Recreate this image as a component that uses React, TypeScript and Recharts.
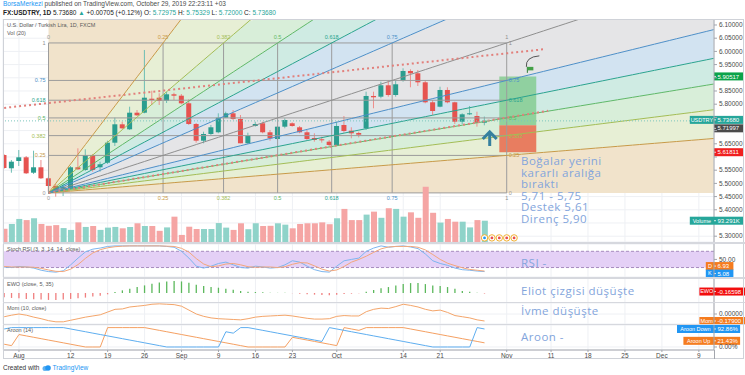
import React from 'react';
import {
  ComposedChart, Bar, Line, Area, XAxis, YAxis, CartesianGrid,
  ReferenceLine, ReferenceArea, ReferenceDot, Cell,
} from 'recharts';

// daily bars, index 0 = 30 Jul 2019 ... 65 = 29 Oct 2019 (weekdays only)
const opens = [
  5.6075, 5.5572, 5.5848, 5.5988, 5.5405, 5.561, 5.5193, 5.4901, 5.4776, 5.4814,
  5.561, 5.5507, 5.6075, 5.561, 5.5784, 5.6542, 5.7238, 5.7049, 5.7678, 5.7678,
  5.8208, 5.8246, 5.8132, 5.8375, 5.8322, 5.8034, 5.725, 5.6617, 5.6871, 5.6936,
  5.7489, 5.7655, 5.7439, 5.6519, 5.7174, 5.7277, 5.6936, 5.6682, 5.7148, 5.7277,
  5.7125, 5.6936, 5.672, 5.667, 5.658, 5.6455, 5.7212, 5.6996, 5.6909, 5.7087,
  5.8311, 5.8284, 5.8716, 5.8348, 5.889, 5.9258, 5.917, 5.8829, 5.8072, 5.7905,
  5.8538, 5.8072, 5.7337, 5.7617, 5.7553, 5.72975,
];
const highs = [
  5.6113, 5.5886, 5.6265, 5.6038, 5.6238, 5.5886, 5.5242, 5.4977, 5.5015, 5.5659,
  5.6329, 5.6291, 5.6113, 5.5822, 5.6618, 5.7489, 5.7337, 5.7905, 5.778, 6.0053,
  5.8511, 5.8413, 5.8462, 5.8436, 5.8386, 5.8185, 5.7288, 5.6958, 5.7212, 5.7655,
  5.7716, 5.778, 5.7591, 5.692, 5.7337, 5.7337, 5.7023, 5.7174, 5.7466, 5.7314,
  5.7174, 5.7023, 5.6898, 5.6769, 5.6644, 5.7337, 5.7553, 5.7125, 5.6958, 5.8474,
  5.8474, 5.8852, 5.8916, 5.8916, 5.936, 5.9322, 5.9296, 5.8916, 5.8159, 5.8663,
  5.864, 5.8094, 5.7655, 5.7932, 5.7716, 5.75329,
];
const lows = [
  5.5545, 5.5405, 5.5659, 5.5356, 5.5356, 5.5166, 5.4685, 5.4496, 5.4523, 5.475,
  5.5507, 5.5469, 5.5443, 5.5443, 5.5735, 5.6417, 5.7049, 5.7023, 5.7553, 5.7655,
  5.797, 5.797, 5.8045, 5.8159, 5.7997, 5.7212, 5.6542, 5.6519, 5.6833, 5.6898,
  5.7477, 5.7401, 5.6519, 5.6492, 5.7148, 5.6898, 5.6617, 5.6644, 5.7087, 5.7148,
  5.6898, 5.6644, 5.658, 5.6542, 5.639, 5.6417, 5.6921, 5.6708, 5.6742, 5.7023,
  5.7845, 5.8223, 5.8284, 5.8284, 5.8852, 5.864, 5.8689, 5.8034, 5.7591, 5.7882,
  5.8034, 5.725, 5.7246, 5.7591, 5.7148, 5.72,
];
const closes = [
  5.5583, 5.5822, 5.5988, 5.5382, 5.561, 5.5193, 5.4901, 5.475, 5.4875, 5.561,
  5.5534, 5.6075, 5.5507, 5.5723, 5.6542, 5.7238, 5.7087, 5.7678, 5.7579, 5.8246,
  5.8159, 5.8121, 5.8375, 5.8322, 5.8034, 5.725, 5.6617, 5.6871, 5.7125, 5.7489,
  5.7655, 5.7439, 5.6519, 5.6807, 5.725, 5.6936, 5.6708, 5.7148, 5.7401, 5.7174,
  5.6936, 5.6682, 5.6644, 5.6632, 5.6455, 5.7174, 5.6985, 5.6897, 5.6845, 5.8311,
  5.8261, 5.8716, 5.8348, 5.8754, 5.9258, 5.917, 5.8829, 5.8072, 5.7742, 5.8538,
  5.8072, 5.7337, 5.7617, 5.7655, 5.7299, 5.7368,
];
// volume in thousands
const volumes = [
  58, 79, 101, 96, 104, 79, 71, 74, 61, 53,
  86, 66, 70, 53, 63, 66, 60, 66, 82, 70,
  70, 49, 64, 111, 31, 67, 57, 57, 57, 83,
  63, 53, 82, 56, 82, 70, 71, 82, 76, 60,
  79, 82, 82, 86, 78, 104, 145, 96, 96, 120,
  133, 106, 148, 145, 111, 130, 106, 242, 128, 85,
  101, 89, 89, 64, 96, 93.291,
];
const stochK = [
  22, 20, 24, 22, 18, 10, 5, 3, 8, 30,
  55, 78, 88, 92, 98, 100, 100, 100, 100, 100,
  100, 100, 98, 95, 80, 55, 25, 18, 25, 35,
  40, 30, 20, 18, 25, 22, 18, 20, 30, 45,
  40, 25, 12, 5, 3, 25, 45, 50, 55, 80,
  92, 100, 95, 98, 100, 96, 90, 70, 45, 35,
  28, 18, 12, 10, 7, 5.08,
];
const stochD = [
  24, 22, 22, 22, 21, 17, 11, 6, 5, 14,
  31, 54, 74, 86, 93, 97, 99, 100, 100, 100,
  100, 100, 99, 98, 91, 77, 53, 33, 23, 26,
  33, 35, 30, 23, 21, 22, 22, 20, 23, 32,
  38, 37, 26, 14, 7, 11, 24, 40, 50, 62,
  76, 89, 96, 98, 98, 98, 95, 85, 68, 50,
  36, 27, 19, 13, 10, 6.93,
];
const ewoValues = [
  -1.3, -1.5, -1.6, -1.8, -1.9, -2.0, -2.1, -2.1, -2.0, -1.8,
  -1.6, -1.4, -1.1, -0.8, -0.4, 0.3, 0.8, 1.3, 1.8, 2.3,
  2.8, 3.2, 3.5, 3.6, 3.5, 3.1, 2.5, 2.1, 1.8, 1.6,
  1.3, 1.0, 0.6, 0.4, 0.3, 0.2, 0.1, 0.05, 0.05, -0.05,
  -0.2, -0.35, -0.5, -0.6, -0.7, -0.5, -0.3, -0.2, -0.1, 0.4,
  0.9, 1.4, 1.8, 2.3, 2.7, 3.0, 3.0, 2.7, 2.3, 2.1,
  1.8, 1.3, 0.6, 0.35, 0.1, -0.166,
];
const momValues = [
  -0.07, -0.03, 0.0, -0.03, -0.08, -0.12, -0.17, -0.2, -0.2, -0.16,
  -0.12, -0.08, -0.05, -0.02, 0.05, 0.12, 0.13, 0.18, 0.2, 0.22,
  0.25, 0.26, 0.25, 0.24, 0.2, 0.1, 0.0, -0.06, -0.1, -0.12,
  -0.13, -0.14, -0.15, -0.12, -0.08, -0.06, -0.05, -0.04, -0.03, -0.05,
  -0.08, -0.11, -0.13, -0.13, -0.12, -0.06, -0.04, -0.05, -0.05, 0.06,
  0.12, 0.15, 0.14, 0.19, 0.25, 0.22, 0.18, 0.12, 0.08, 0.1,
  0.04, -0.04, -0.07, -0.1, -0.15, -0.179,
];
const aroonUp = [
  14.3, 7.1, 64.3, 57.1, 50, 42.9, 35.7, 28.6, 21.4, 14.3,
  7.1, 0, 0, 0, 100, 100, 100, 100, 100, 100,
  92.9, 85.7, 78.6, 71.4, 64.3, 57.1, 50, 42.9, 35.7, 28.6,
  21.4, 14.3, 7.1, 0, 0, 0, 0, 0, 0, 50,
  42.9, 35.7, 28.6, 21.4, 14.3, 7.1, 100, 92.9, 85.7, 100,
  100, 100, 100, 100, 100, 92.9, 85.7, 78.6, 71.4, 64.3,
  57.1, 50, 42.9, 35.7, 28.6, 21.43,
];
const aroonDown = [
  92.9, 100, 100, 100, 100, 100, 100, 100, 100, 92.9,
  85.7, 78.6, 71.4, 64.3, 57.1, 50, 42.9, 35.7, 28.6, 21.4,
  14.3, 7.1, 0, 0, 0, 0, 0, 0, 0, 0,
  78.6, 71.4, 100, 100, 92.9, 85.7, 78.6, 71.4, 64.3, 57.1,
  50, 42.9, 35.7, 28.6, 100, 92.9, 85.7, 78.6, 71.4, 64.3,
  57.1, 50, 42.9, 35.7, 28.6, 21.4, 14.3, 7.1, 0, 0,
  0, 0, 0, 0, 100, 92.86,
];

const dateTickIdx = [2, 9, 14, 19, 24, 29, 34, 39, 45, 54, 59, 68, 74, 79, 84, 89, 94];
const dateTickLabels = ['Aug', '12', '19', '26', 'Sep', '9', '16', '23', 'Oct', '14', '21', 'Nov', '11', '18', '25', 'Dec', '9'];
const priceTicks = [6.1, 6.05, 6.0, 5.95, 5.9, 5.85, 5.8, 5.75, 5.7, 5.65, 5.6, 5.55, 5.5, 5.45, 5.4, 5.35, 5.3];
// price labels covered by the coloured tags on the axis
const coveredPriceTicks = [5.9, 5.75, 5.7, 5.6, 5.35];

// fib speed resistance fan: anchors (bar index, price) and levels
const fanAnchors = [{ i: 6, p: 5.464 }, { i: 68, p: 6.032 }];
const fanLevels = [0, 0.25, 0.382, 0.5, 0.618, 0.75, 1];
const fanLabels = ['0', '0.25', '0.382', '0.5', '0.618', '0.75', '1'];
const fanLineColors = ['#9a9a9a', '#c89a48', '#a3bd55', '#5fb868', '#2aa38e', '#4d8fc8', '#8e8e8e'];
const fanFillColors = ['#ffffff', '#f1e3cb', '#e7efd5', '#d8eed9', '#cfebe3', '#d2e3f1', '#e5e5e7'];

// dotted channel drawn on the chart
const channelTop = [{ i: 0, p: 5.786 }, { i: 73, p: 6.008 }];
const channelBottom = [{ i: 6, p: 5.464 }, { i: 73.6, p: 5.775 }];

// long position tool
const position = { i1: 67, i2: 72, entry: 5.71997, target: 5.90517, stop: 5.61811 };
const lastPrice = 5.7368;

const FONT = "'Liberation Sans', Arial, sans-serif";
const NOTE_FONT = "'Open Sans', 'DejaVu Sans', sans-serif";
const NOTE_COLOR = '#83a5dc';
const GRID = '#eef0f4';
const FRAME = '#cfd2d8';
const AXIS = '#a3a6ad';

const X_DOMAIN: [number, number] = [-0.16, 96.05];
const P_DOMAIN: [number, number] = [5.278, 6.1227];

const bars = opens.map((o, i) => ({
  i, o, h: highs[i], l: lows[i], c: closes[i], vol: volumes[i],
  k: stochK[i], d: stochD[i], ewo: ewoValues[i], mom: momValues[i],
  up: aroonUp[i], dn: aroonDown[i],
}));
const canvasRows: any[] = Array.from({ length: 97 }, (_, i) => bars[i] ?? { i });

const tickStyle = { fontSize: 6.5, fill: '#4a4a4a', fontFamily: FONT };

function PriceTick(props: any) {
  const { x, y, payload } = props;
  const v = payload?.value;
  if (v == null || coveredPriceTicks.some((c) => Math.abs(c - v) < 1e-6)) return null;
  return (
    <text x={x} y={y} dy="0.35em" textAnchor="start" fontSize={6.5} fill="#4a4a4a" fontFamily={FONT}>
      {v.toFixed(5)}
    </text>
  );
}

function Candle(props: any) {
  const { x, y, width, height, payload } = props;
  if (!payload || payload.h == null) return null;
  const { o, h, l, c } = payload;
  let top = y;
  let hgt = height;
  if (hgt < 0) { top = y + hgt; hgt = -hgt; }
  const k = h > l ? hgt / (h - l) : 0;
  const py = (v: number) => top + (h - v) * k;
  const up = c >= o;
  const body = up ? '#2a9d8f' : '#e65350';
  const wick = up ? '#6dbdb3' : '#ee8e8b';
  const cx = x + width / 2;
  const by = py(Math.max(o, c));
  const bh = Math.max(1, py(Math.min(o, c)) - by);
  return (
    <g>
      <line x1={cx} x2={cx} y1={top} y2={top + hgt} stroke={wick} strokeWidth={1} />
      <rect x={x} y={by} width={width} height={bh} fill={body} />
    </g>
  );
}

function FibLabel(props: any) {
  const { viewBox, text, color, kind } = props;
  if (!viewBox) return null;
  const { x, y, width, height } = viewBox;
  if (kind === 'h') {
    return (
      <g fontSize={5.5} fill={color} fontFamily={FONT}>
        <text x={x - 3} y={y} dy="0.35em" textAnchor="end">{text}</text>
        <text x={x + width + 2} y={y} dy="0.35em" textAnchor="start">{text}</text>
      </g>
    );
  }
  return (
    <g fontSize={5.5} fill={color} fontFamily={FONT}>
      <text x={x} y={y - 4} textAnchor="middle">{text}</text>
      <text x={x} y={y + height + 7} textAnchor="middle">{text}</text>
    </g>
  );
}

function AxisTag(props: any) {
  const { viewBox, name, value, bg, dy = 0 } = props;
  if (!viewBox) return null;
  const xr = viewBox.x + viewBox.width;
  const cy = viewBox.y + dy;
  const nameW = name ? name.length * 3.2 + 5 : 0;
  const valW = value.length * 3.35 + 6;
  return (
    <g fontFamily={FONT}>
      <rect x={xr - nameW} y={cy - 4} width={nameW + valW} height={8} fill={bg} />
      {name ? (
        <text x={xr - nameW / 2} y={cy} dy="0.35em" textAnchor="middle" fontSize={5.5} fill="#fff">{name}</text>
      ) : null}
      <line x1={xr} x2={xr + 2} y1={cy} y2={cy} stroke="#fff" strokeWidth={0.8} />
      <text x={xr + 3.5} y={cy} dy="0.35em" fontSize={6} fill="#fff">{value}</text>
    </g>
  );
}

function ArrowUpMark(props: any) {
  const { cx, cy } = props;
  if (cx == null) return null;
  return (
    <g stroke="#35809f" strokeWidth={3} fill="none">
      <polyline points={`${cx - 7},${cy + 1} ${cx},${cy - 6} ${cx + 7},${cy + 1}`} />
      <line x1={cx} y1={cy - 5} x2={cx} y2={cy + 8} />
    </g>
  );
}

function FlagMark(props: any) {
  const { cx, cy } = props;
  if (cx == null) return null;
  return (
    <g>
      <path d={`M${cx - 4},${cy - 3} Q${cx - 5},${cy - 13} ${cx + 9},${cy - 14}`} stroke="#444" fill="none" strokeWidth={0.9} />
      <line x1={cx - 3} y1={cy + 3} x2={cx - 3} y2={cy - 3} stroke="#2e7d32" />
      <rect x={cx - 3} y={cy - 3} width={6} height={3.5} fill="#43a047" />
    </g>
  );
}

function EventMark(props: any) {
  const { cx, cy, fill } = props;
  if (cx == null) return null;
  return (
    <g>
      <circle cx={cx} cy={cy} r={3.2} fill="#fff" stroke="#f2b134" strokeWidth={1} />
      <circle cx={cx} cy={cy} r={1.4} fill={fill} />
    </g>
  );
}

function MainPane() {
  const [a, b] = fanAnchors;
  const di = b.i - a.i;
  const dp = b.p - a.p;
  const clamp = (v: number) => Math.min(P_DOMAIN[1], Math.max(P_DOMAIN[0], v));
  const priceLine = (lv: number, i: number) => a.p + (lv * dp * (i - a.i)) / di;
  const timeLine = (lv: number, i: number) => (lv === 0 ? P_DOMAIN[1] : a.p + (dp * (i - a.i)) / (lv * di));

  const regions: { lo: (i: number) => number; hi: (i: number) => number; fill: string }[] = [];
  for (let k = 0; k < 6; k++) {
    regions.push({ lo: (i) => priceLine(fanLevels[k], i), hi: (i) => priceLine(fanLevels[k + 1], i), fill: fanFillColors[k + 1] });
  }
  const rev = [...fanLevels].reverse();
  for (let k = 0; k < 6; k++) {
    regions.push({ lo: (i) => timeLine(rev[k], i), hi: (i) => timeLine(rev[k + 1], i), fill: fanFillColors[6 - k] });
  }

  return (
    <ComposedChart width={745} height={223} data={canvasRows} margin={{ top: 0, right: 0, bottom: 0, left: 3 }}>
      <CartesianGrid stroke={GRID} />
      <XAxis dataKey="i" type="number" domain={X_DOMAIN} ticks={dateTickIdx} allowDataOverflow hide />
      <YAxis
        orientation="right" width={31} domain={P_DOMAIN} ticks={priceTicks} allowDataOverflow
        tick={<PriceTick />} tickSize={3}
        tickLine={{ stroke: AXIS }} axisLine={{ stroke: AXIS }} interval={0}
      />
      {regions.map((r, n) => (
        <Area
          key={`fill${n}`} type="linear" stroke="none" fill={r.fill} fillOpacity={1}
          dataKey={(row: any) => (row.i < a.i ? null : [clamp(r.lo(row.i)), clamp(r.hi(row.i))])}
          isAnimationActive={false} dot={false} activeDot={false}
        />
      ))}
      {fanLevels.map((lv, n) => (
        <ReferenceLine
          key={`fh${n}`} stroke="#9c9c9c" strokeWidth={1}
          segment={[{ x: a.i, y: a.p + lv * dp }, { x: b.i, y: a.p + lv * dp }]}
          label={<FibLabel text={fanLabels[n]} color={fanLineColors[n]} kind="h" />}
        />
      ))}
      {fanLevels.map((lv, n) => (
        <ReferenceLine
          key={`fv${n}`} stroke="#9c9c9c" strokeWidth={1}
          segment={[{ x: a.i + lv * di, y: a.p }, { x: a.i + lv * di, y: b.p }]}
          label={<FibLabel text={fanLabels[n]} color={fanLineColors[n]} kind="v" />}
        />
      ))}
      {fanLevels.slice(1).map((lv, n) => (
        <Line
          key={`pl${n}`} type="linear" stroke={fanLineColors[n + 1]} strokeWidth={1} dot={false} activeDot={false}
          dataKey={(row: any) => (row.i < a.i ? null : priceLine(lv, row.i))} isAnimationActive={false}
        />
      ))}
      {fanLevels.slice(1, 6).map((lv, n) => (
        <Line
          key={`tl${n}`} type="linear" stroke={fanLineColors[n + 1]} strokeWidth={1} dot={false} activeDot={false}
          dataKey={(row: any) => (row.i < a.i ? null : timeLine(lv, row.i))} isAnimationActive={false}
        />
      ))}
      <ReferenceLine
        segment={[{ x: channelTop[0].i, y: channelTop[0].p }, { x: channelTop[1].i, y: channelTop[1].p }]}
        stroke="#e2807c" strokeWidth={2} strokeDasharray="2 3"
      />
      <ReferenceLine
        segment={[{ x: channelBottom[0].i, y: channelBottom[0].p }, { x: channelBottom[1].i, y: channelBottom[1].p }]}
        stroke="#e2807c" strokeWidth={2} strokeDasharray="2 3"
      />
      <ReferenceLine y={lastPrice} stroke="#7cc6bd" strokeDasharray="1 2" strokeWidth={1} />
      <ReferenceArea x1={position.i1} x2={position.i2} y1={position.entry} y2={position.target} fill="#7fcb8c" fillOpacity={0.8} stroke="none" />
      <ReferenceArea x1={position.i1} x2={position.i2} y1={position.stop} y2={position.entry} fill="#e8765a" fillOpacity={0.95} stroke="none" />
      <Bar
        dataKey={(row: any) => (row.h == null ? null : [row.l, row.h])}
        barSize={5} shape={<Candle />} isAnimationActive={false}
      />
      <ReferenceDot x={65.7} y={5.672} r={0} shape={<ArrowUpMark />} />
      <ReferenceDot x={71.2} y={5.93} r={0} shape={<FlagMark />} />
      <ReferenceLine y={position.target} stroke="none" label={<AxisTag value="5.90517" bg="#0ca34a" />} />
      <ReferenceLine y={lastPrice} stroke="none" label={<AxisTag name="USDTRY" value="5.73680" bg="#26a69a" dy={-1} />} />
      <ReferenceLine y={position.entry} stroke="none" label={<AxisTag value="5.71997" bg="#4b4b4b" dy={3} />} />
      <ReferenceLine y={position.stop} stroke="none" label={<AxisTag value="5.61811" bg="#f01f1f" />} />
    </ComposedChart>
  );
}

function VolumePane() {
  return (
    <ComposedChart width={745} height={223} data={bars} margin={{ top: 0, right: 31, bottom: 0, left: 3 }}>
      <XAxis dataKey="i" type="number" domain={X_DOMAIN} allowDataOverflow hide />
      <YAxis domain={[0, 977]} allowDataOverflow hide />
      <Bar dataKey="vol" barSize={6} isAnimationActive={false}>
        {bars.map((r) => (
          <Cell key={r.i} fill={r.c >= r.o ? '#8fd3c9' : '#f5a5a4'} />
        ))}
      </Bar>
      {[65, 66, 67, 68, 69].map((i, n) => (
        <ReferenceDot key={i} x={i} y={18} r={0} fill={n === 0 ? '#2196f3' : '#e84e4e'} shape={<EventMark />} />
      ))}
      <ReferenceLine y={volumes[volumes.length - 1]} stroke="none" label={<AxisTag name="Volume" value="93.291K" bg="#26a69a" />} />
    </ComposedChart>
  );
}

function StochPane() {
  return (
    <ComposedChart width={745} height={33} data={bars} margin={{ top: 0, right: 0, bottom: 0, left: 3 }}>
      <CartesianGrid stroke={GRID} />
      <XAxis dataKey="i" type="number" domain={X_DOMAIN} ticks={dateTickIdx} allowDataOverflow hide />
      <YAxis
        orientation="right" width={31} domain={[-15, 107]} ticks={[100, 50]} allowDataOverflow
        tickFormatter={(v: number) => v.toFixed(2)} tick={tickStyle} tickSize={3}
        tickLine={{ stroke: AXIS }} axisLine={{ stroke: AXIS }}
      />
      <ReferenceArea y1={20} y2={80} fill="#e4d0f6" fillOpacity={1} stroke="none" />
      <ReferenceLine y={80} stroke="#a78bbf" strokeDasharray="3 2" />
      <ReferenceLine y={20} stroke="#a78bbf" strokeDasharray="3 2" />
      <Line dataKey="k" type="linear" stroke="#7db6ef" strokeWidth={1} dot={false} isAnimationActive={false} />
      <Line dataKey="d" type="linear" stroke="#f3a77c" strokeWidth={1} dot={false} isAnimationActive={false} />
      <ReferenceLine y={stochD[stochD.length - 1]} stroke="none" label={<AxisTag name="D" value="6.93" bg="#f57c1f" dy={-5} />} />
      <ReferenceLine y={stochK[stochK.length - 1]} stroke="none" label={<AxisTag name="K" value="5.08" bg="#2196f3" dy={2} />} />
    </ComposedChart>
  );
}

function EwoPane() {
  return (
    <ComposedChart width={745} height={23} data={bars} margin={{ top: 0, right: 0, bottom: 0, left: 3 }}>
      <CartesianGrid stroke={GRID} horizontal={false} />
      <XAxis dataKey="i" type="number" domain={X_DOMAIN} ticks={dateTickIdx} allowDataOverflow hide />
      <YAxis orientation="right" width={31} domain={[-2.73, 4.24]} ticks={[]} allowDataOverflow axisLine={{ stroke: AXIS }} tick={false} />
      <Bar dataKey="ewo" barSize={1.3} isAnimationActive={false}>
        {bars.map((r) => (
          <Cell key={r.i} fill={r.ewo >= 0 ? '#5cb85c' : '#f07f7f'} />
        ))}
      </Bar>
      <ReferenceLine y={ewoValues[ewoValues.length - 1]} stroke="none" label={<AxisTag name="EWO" value="-0.16598" bg="#f20d0d" dy={-2} />} />
    </ComposedChart>
  );
}

function MomPane() {
  return (
    <ComposedChart width={745} height={21} data={bars} margin={{ top: 0, right: 0, bottom: 0, left: 3 }}>
      <CartesianGrid stroke={GRID} />
      <XAxis dataKey="i" type="number" domain={X_DOMAIN} ticks={dateTickIdx} allowDataOverflow hide />
      <YAxis
        orientation="right" width={31} domain={[-0.256, 0.282]} ticks={[0]} allowDataOverflow
        tickFormatter={(v: number) => v.toFixed(5)} tick={tickStyle} tickSize={3}
        tickLine={{ stroke: AXIS }} axisLine={{ stroke: AXIS }}
      />
      <Line dataKey="mom" type="linear" stroke="#f4a56a" strokeWidth={1} dot={false} isAnimationActive={false} />
      <ReferenceLine y={momValues[momValues.length - 1]} stroke="none" label={<AxisTag name="Mom" value="-0.17900" bg="#f57c1f" />} />
    </ComposedChart>
  );
}

function AroonPane() {
  return (
    <ComposedChart width={745} height={37} data={bars} margin={{ top: 0, right: 0, bottom: 0, left: 3 }}>
      <CartesianGrid stroke={GRID} />
      <XAxis
        dataKey="i" type="number" domain={X_DOMAIN} ticks={dateTickIdx} allowDataOverflow interval={0}
        height={12} tickSize={2} tickMargin={1} tick={tickStyle} tickLine={{ stroke: AXIS }} axisLine={{ stroke: AXIS }}
        tickFormatter={(v: number) => dateTickLabels[dateTickIdx.indexOf(v)] ?? ''}
      />
      <YAxis
        orientation="right" width={31} domain={[-15.5, 113.4]} ticks={[0]} allowDataOverflow
        tickFormatter={(v: number) => `${v.toFixed(2)}%`} tick={tickStyle} tickSize={3}
        tickLine={{ stroke: AXIS }} axisLine={{ stroke: AXIS }}
      />
      <Line dataKey="up" type="linear" stroke="#f5a062" strokeWidth={1} dot={false} isAnimationActive={false} />
      <Line dataKey="dn" type="linear" stroke="#5eaef0" strokeWidth={1} dot={false} isAnimationActive={false} />
      <ReferenceLine y={aroonDown[aroonDown.length - 1]} stroke="none" label={<AxisTag name="Aroon Down" value="92.86%" bg="#2196f3" />} />
      <ReferenceLine y={aroonUp[aroonUp.length - 1]} stroke="none" label={<AxisTag name="Aroon Up" value="21.43%" bg="#f57c1f" dy={-2} />} />
    </ComposedChart>
  );
}

const abs = (left: number, top: number, extra: React.CSSProperties = {}): React.CSSProperties => ({
  position: 'absolute', left, top, ...extra,
});

const noteStyle: React.CSSProperties = {
  position: 'absolute', left: 521, fontFamily: NOTE_FONT, color: NOTE_COLOR,
  fontSize: 11.5, lineHeight: '11.5px', letterSpacing: 0.5, whiteSpace: 'nowrap',
};

export default function App() {
  const small: React.CSSProperties = { fontFamily: FONT, fontSize: 6.5, color: '#4a4a4a', whiteSpace: 'nowrap', lineHeight: '8px' };
  const title: React.CSSProperties = { fontFamily: FONT, fontSize: 5.5, color: '#5a5a5a', whiteSpace: 'nowrap', lineHeight: '7px' };
  const green = { color: '#26a69a' };
  return (
    <div style={{ position: 'absolute', left: 0, top: 0, width: 745, height: 375, background: '#fff', overflow: 'hidden' }}>
      <div style={{ ...abs(3, 0), ...small }}>
        <span style={{ color: '#2196f3' }}>BorsaMerkezi</span> published on TradingView.com, October 29, 2019 22:23:11 +03
      </div>
      <div style={{ ...abs(3, 9), ...small, color: '#222' }}>
        <b>FX:USDTRY, 1D</b> 5.73680 <span style={green}>▲</span> +0.00705 (+0.12%) O: <span style={green}>5.72975</span> H: <span style={green}>5.75329</span> L: <span style={green}>5.72000</span> C: <span style={green}>5.73680</span>
      </div>

      <div style={abs(0, 19)}><MainPane /></div>
      <div style={abs(0, 19)}><VolumePane /></div>
      <div style={abs(0, 244)}><StochPane /></div>
      <div style={abs(0, 279)}><EwoPane /></div>
      <div style={abs(0, 303)}><MomPane /></div>
      <div style={abs(0, 325)}><AroonPane /></div>

      {/* frame and pane separators */}
      <div style={abs(3, 19, { width: 741, height: 340, border: `1px solid ${FRAME}`, boxSizing: 'border-box', pointerEvents: 'none' })} />
      <div style={abs(3, 242, { width: 742, height: 2, background: '#d6d8de' })} />
      <div style={abs(3, 277, { width: 742, height: 2, background: '#d6d8de' })} />
      <div style={abs(3, 302, { width: 742, height: 1, background: '#d6d8de' })} />
      <div style={abs(3, 324, { width: 742, height: 1, background: '#d6d8de' })} />
      <div style={abs(714, 350, { width: 1, height: 9, background: AXIS })} />

      <div style={{ ...abs(7, 22), ...title }}>U.S. Dollar / Turkish Lira, 1D, FXCM</div>
      <div style={{ ...abs(7, 30), ...title }}>Vol (20)</div>
      <div style={{ ...abs(7, 246), ...title }}>Stoch RSI (3, 3, 14, 14, close)</div>
      <div style={{ ...abs(7, 281), ...title }}>EWO (close, 5, 35)</div>
      <div style={{ ...abs(7, 305), ...title }}>Mom (10, close)</div>
      <div style={{ ...abs(7, 327), ...title }}>Aroon (14)</div>

      <div style={{ ...noteStyle, top: 155 }}>
        Boğalar yerini<br />kararlı aralığa<br />bıraktı<br />5,71 - 5,75<br />Destek 5,61<br />Direnç 5,90
      </div>
      <div style={{ ...noteStyle, top: 257 }}>RSI -</div>
      <div style={{ ...noteStyle, top: 285 }}>Eliot çizgisi düşüşte</div>
      <div style={{ ...noteStyle, top: 305 }}>İvme düşüşte</div>
      <div style={{ ...noteStyle, top: 331 }}>Aroon -</div>

      <div style={{ ...abs(3, 364), ...small, color: '#333', display: 'flex', alignItems: 'center', gap: 2 }}>
        <span>Created with</span>
        <svg width={9} height={6}>
          <circle cx={3} cy={3.5} r={2.5} fill="#5eb0ef" />
          <circle cx={6} cy={3} r={2.8} fill="#2196f3" />
        </svg>
        <span style={{ color: '#2196f3' }}>TradingView</span>
      </div>
    </div>
  );
}
